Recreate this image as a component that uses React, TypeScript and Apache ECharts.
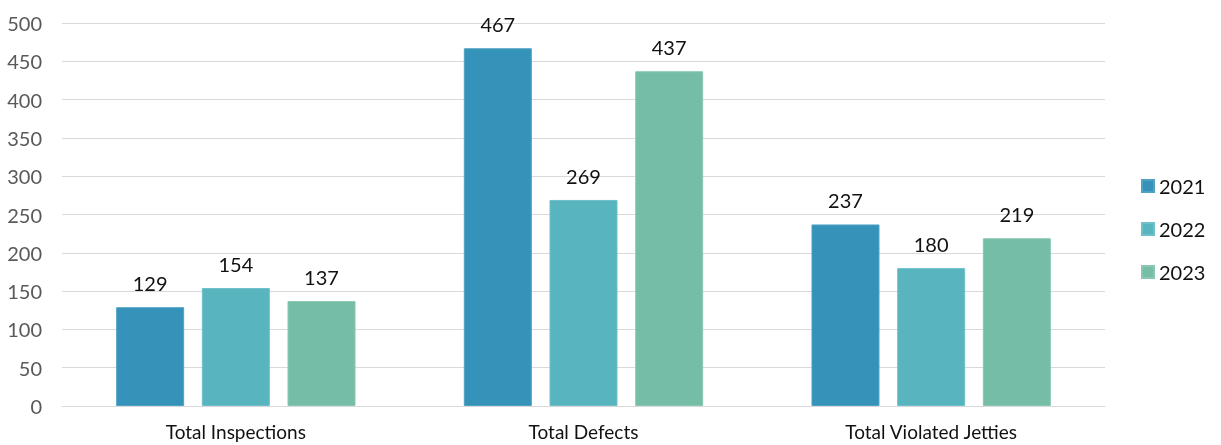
import React, { useEffect, useRef } from "react";
import * as echarts from "echarts";

const categories = ["Total Inspections", "Total Defects", "Total Violated Jetties"];
const years = ["2021", "2022", "2023"];
const values2021 = [129, 467, 237];
const values2022 = [154, 269, 180];
const values2023 = [137, 437, 219];
const colors = ["#3592B9", "#58B5C0", "#75BDA6"];
const borders = ["#4FA2C4", "#6EC0C9", "#8AC8B3"];
const yTicks = { min: 0, max: 500, interval: 50 };

const FONT = "Lato, 'Open Sans', sans-serif";

export default function App() {
  const ref = useRef<HTMLDivElement>(null);
  useEffect(() => {
    const chart = echarts.init(ref.current!, undefined, { renderer: "svg" });
    const data = [values2021, values2022, values2023];
    chart.setOption({
      animation: false,
      textStyle: { fontFamily: FONT },
      grid: { left: 62, right: 116, top: 23, bottom: 39, containLabel: false },
      legend: {
        orient: "vertical",
        left: 1141,
        top: 176,
        padding: 0,
        itemWidth: 12,
        itemHeight: 12,
        itemGap: 23,
        icon: "rect",
        textStyle: { fontSize: 20, color: "#111", fontFamily: FONT },
        data: years,
      },
      xAxis: {
        type: "category",
        data: categories,
        axisLine: { show: true, lineStyle: { color: "#d9d9d9", width: 1 } },
        axisTick: { show: false },
        axisLabel: { fontSize: 19, color: "#111", margin: 16, fontFamily: FONT },
      },
      yAxis: {
        type: "value",
        min: yTicks.min,
        max: yTicks.max,
        interval: yTicks.interval,
        axisLine: { show: false },
        axisTick: { show: false },
        splitLine: { lineStyle: { color: "#d9d9d9", width: 1 } },
        axisLabel: { fontSize: 20, color: "#595959", margin: 20, fontFamily: FONT },
      },
      series: years.map((y, i) => ({
        name: y,
        type: "bar",
        data: data[i],
        barWidth: 68,
        barGap: "26%",
        itemStyle: { color: colors[i], borderColor: borders[i], borderWidth: 1 },
        label: {
          show: true,
          position: "top",
          distance: 14,
          fontSize: 20,
          color: "#111",
          fontFamily: FONT,
        },
      })),
    });
    return () => chart.dispose();
  }, []);
  return (
    <div
      ref={ref}
      style={{ position: "fixed", left: 0, top: 0, width: 1221, height: 445 }}
    />
  );
}
